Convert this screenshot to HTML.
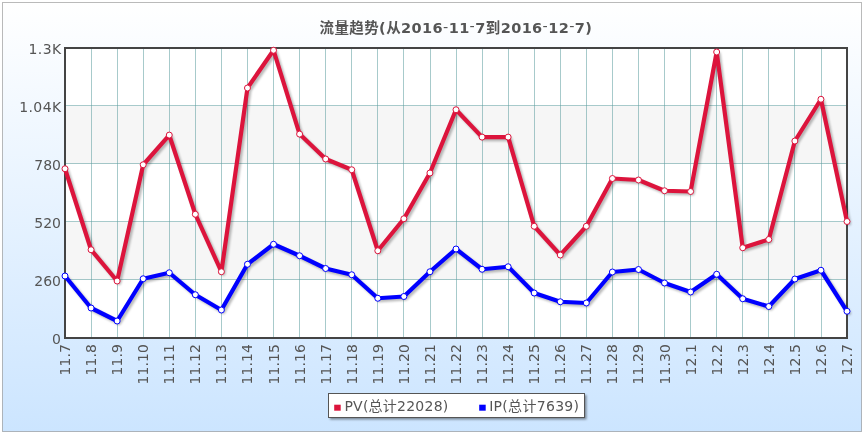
<!DOCTYPE html>
<html><head><meta charset="utf-8"><title>流量趋势</title>
<style>
html,body{margin:0;padding:0;background:#fff;}
body{width:864px;height:434px;overflow:hidden;}
svg{display:block;}
text{font-family:"DejaVu Sans","Liberation Sans","Noto Sans CJK SC",sans-serif;fill:#555;}
.t{font-family:"DejaVu Sans","Liberation Sans","Noto Sans CJK SC",sans-serif;font-weight:bold;font-size:14.5px;fill:#555;}
.l{font-size:14px;letter-spacing:0.35px;}
</style></head><body>
<svg width="864" height="434" viewBox="0 0 864 434">
<defs>
<linearGradient id="bg" x1="0" y1="0" x2="0" y2="1"><stop offset="0" stop-color="#ffffff"/><stop offset="1" stop-color="#cce5ff"/></linearGradient>
<filter id="bl" x="-5%" y="-5%" width="110%" height="110%"><feGaussianBlur stdDeviation="0.9"/></filter>
<filter id="bl2" x="-5%" y="-30%" width="110%" height="160%"><feGaussianBlur stdDeviation="1.1"/></filter>
</defs>
<rect x="2.5" y="2.5" width="859" height="429" fill="url(#bg)" stroke="#666" stroke-opacity="0.45" stroke-width="1"/>
<rect x="65" y="48" width="782" height="290" fill="#ffffff"/>
<rect x="65" y="106" width="782" height="58" fill="#f6f6f6"/>
<rect x="65" y="222" width="782" height="58" fill="#f6f6f6"/>
<g stroke="#5f9ea0" stroke-opacity="0.55" stroke-width="1" shape-rendering="crispEdges">
<line x1="65" y1="105.5" x2="847" y2="105.5"/>
<line x1="65" y1="163.5" x2="847" y2="163.5"/>
<line x1="65" y1="221.5" x2="847" y2="221.5"/>
<line x1="65" y1="279.5" x2="847" y2="279.5"/>
<line x1="91.5" y1="48" x2="91.5" y2="338"/>
<line x1="117.5" y1="48" x2="117.5" y2="338"/>
<line x1="143.5" y1="48" x2="143.5" y2="338"/>
<line x1="169.5" y1="48" x2="169.5" y2="338"/>
<line x1="195.5" y1="48" x2="195.5" y2="338"/>
<line x1="221.5" y1="48" x2="221.5" y2="338"/>
<line x1="247.5" y1="48" x2="247.5" y2="338"/>
<line x1="273.5" y1="48" x2="273.5" y2="338"/>
<line x1="299.5" y1="48" x2="299.5" y2="338"/>
<line x1="325.5" y1="48" x2="325.5" y2="338"/>
<line x1="351.5" y1="48" x2="351.5" y2="338"/>
<line x1="377.5" y1="48" x2="377.5" y2="338"/>
<line x1="403.5" y1="48" x2="403.5" y2="338"/>
<line x1="430.5" y1="48" x2="430.5" y2="338"/>
<line x1="456.5" y1="48" x2="456.5" y2="338"/>
<line x1="482.5" y1="48" x2="482.5" y2="338"/>
<line x1="508.5" y1="48" x2="508.5" y2="338"/>
<line x1="534.5" y1="48" x2="534.5" y2="338"/>
<line x1="560.5" y1="48" x2="560.5" y2="338"/>
<line x1="586.5" y1="48" x2="586.5" y2="338"/>
<line x1="612.5" y1="48" x2="612.5" y2="338"/>
<line x1="638.5" y1="48" x2="638.5" y2="338"/>
<line x1="664.5" y1="48" x2="664.5" y2="338"/>
<line x1="690.5" y1="48" x2="690.5" y2="338"/>
<line x1="716.5" y1="48" x2="716.5" y2="338"/>
<line x1="742.5" y1="48" x2="742.5" y2="338"/>
<line x1="768.5" y1="48" x2="768.5" y2="338"/>
<line x1="794.5" y1="48" x2="794.5" y2="338"/>
<line x1="821.5" y1="48" x2="821.5" y2="338"/>
</g>
<rect x="65" y="48" width="782" height="290" fill="none" stroke="#444" stroke-width="2"/>
<polyline points="65.00,168.75 91.07,249.75 117.13,281.00 143.20,164.75 169.27,135.10 195.33,214.25 221.40,271.75 247.47,88.00 273.53,50.25 299.60,134.10 325.67,159.00 351.73,169.75 377.80,250.75 403.87,218.75 429.93,173.00 456.00,109.75 482.07,137.10 508.13,137.10 534.20,226.25 560.27,255.00 586.33,226.25 612.40,178.50 638.47,180.00 664.53,190.75 690.60,191.50 716.67,52.00 742.73,247.75 768.80,239.50 794.87,141.00 820.93,99.25 847.00,221.50" fill="none" stroke="#000" stroke-opacity="0.27" stroke-width="4.2" stroke-linejoin="round" stroke-linecap="round" transform="translate(2,2)" filter="url(#bl)"/>
<polyline points="65.00,168.75 91.07,249.75 117.13,281.00 143.20,164.75 169.27,135.10 195.33,214.25 221.40,271.75 247.47,88.00 273.53,50.25 299.60,134.10 325.67,159.00 351.73,169.75 377.80,250.75 403.87,218.75 429.93,173.00 456.00,109.75 482.07,137.10 508.13,137.10 534.20,226.25 560.27,255.00 586.33,226.25 612.40,178.50 638.47,180.00 664.53,190.75 690.60,191.50 716.67,52.00 742.73,247.75 768.80,239.50 794.87,141.00 820.93,99.25 847.00,221.50" fill="none" stroke="#dc143c" stroke-width="4.2" stroke-linejoin="round" stroke-linecap="round"/>
<g fill="#fff" stroke="#dc143c" stroke-width="1">
<circle cx="65.00" cy="168.75" r="3"/>
<circle cx="91.07" cy="249.75" r="3"/>
<circle cx="117.13" cy="281.00" r="3"/>
<circle cx="143.20" cy="164.75" r="3"/>
<circle cx="169.27" cy="135.10" r="3"/>
<circle cx="195.33" cy="214.25" r="3"/>
<circle cx="221.40" cy="271.75" r="3"/>
<circle cx="247.47" cy="88.00" r="3"/>
<circle cx="273.53" cy="50.25" r="3"/>
<circle cx="299.60" cy="134.10" r="3"/>
<circle cx="325.67" cy="159.00" r="3"/>
<circle cx="351.73" cy="169.75" r="3"/>
<circle cx="377.80" cy="250.75" r="3"/>
<circle cx="403.87" cy="218.75" r="3"/>
<circle cx="429.93" cy="173.00" r="3"/>
<circle cx="456.00" cy="109.75" r="3"/>
<circle cx="482.07" cy="137.10" r="3"/>
<circle cx="508.13" cy="137.10" r="3"/>
<circle cx="534.20" cy="226.25" r="3"/>
<circle cx="560.27" cy="255.00" r="3"/>
<circle cx="586.33" cy="226.25" r="3"/>
<circle cx="612.40" cy="178.50" r="3"/>
<circle cx="638.47" cy="180.00" r="3"/>
<circle cx="664.53" cy="190.75" r="3"/>
<circle cx="690.60" cy="191.50" r="3"/>
<circle cx="716.67" cy="52.00" r="3"/>
<circle cx="742.73" cy="247.75" r="3"/>
<circle cx="768.80" cy="239.50" r="3"/>
<circle cx="794.87" cy="141.00" r="3"/>
<circle cx="820.93" cy="99.25" r="3"/>
<circle cx="847.00" cy="221.50" r="3"/>
</g>
<polyline points="65.00,276.00 91.07,308.00 117.13,321.00 143.20,278.75 169.27,272.75 195.33,294.75 221.40,310.00 247.47,264.25 273.53,244.25 299.60,255.75 325.67,268.50 351.73,274.75 377.80,298.25 403.87,296.50 429.93,271.75 456.00,249.00 482.07,269.25 508.13,266.75 534.20,293.00 560.27,301.75 586.33,303.00 612.40,272.00 638.47,269.50 664.53,283.00 690.60,292.00 716.67,274.25 742.73,298.75 768.80,306.50 794.87,279.00 820.93,270.25 847.00,311.25" fill="none" stroke="#000" stroke-opacity="0.27" stroke-width="4.2" stroke-linejoin="round" stroke-linecap="round" transform="translate(2,2)" filter="url(#bl)"/>
<polyline points="65.00,276.00 91.07,308.00 117.13,321.00 143.20,278.75 169.27,272.75 195.33,294.75 221.40,310.00 247.47,264.25 273.53,244.25 299.60,255.75 325.67,268.50 351.73,274.75 377.80,298.25 403.87,296.50 429.93,271.75 456.00,249.00 482.07,269.25 508.13,266.75 534.20,293.00 560.27,301.75 586.33,303.00 612.40,272.00 638.47,269.50 664.53,283.00 690.60,292.00 716.67,274.25 742.73,298.75 768.80,306.50 794.87,279.00 820.93,270.25 847.00,311.25" fill="none" stroke="#0000ff" stroke-width="4.2" stroke-linejoin="round" stroke-linecap="round"/>
<g fill="#fff" stroke="#0000ff" stroke-width="1">
<circle cx="65.00" cy="276.00" r="3"/>
<circle cx="91.07" cy="308.00" r="3"/>
<circle cx="117.13" cy="321.00" r="3"/>
<circle cx="143.20" cy="278.75" r="3"/>
<circle cx="169.27" cy="272.75" r="3"/>
<circle cx="195.33" cy="294.75" r="3"/>
<circle cx="221.40" cy="310.00" r="3"/>
<circle cx="247.47" cy="264.25" r="3"/>
<circle cx="273.53" cy="244.25" r="3"/>
<circle cx="299.60" cy="255.75" r="3"/>
<circle cx="325.67" cy="268.50" r="3"/>
<circle cx="351.73" cy="274.75" r="3"/>
<circle cx="377.80" cy="298.25" r="3"/>
<circle cx="403.87" cy="296.50" r="3"/>
<circle cx="429.93" cy="271.75" r="3"/>
<circle cx="456.00" cy="249.00" r="3"/>
<circle cx="482.07" cy="269.25" r="3"/>
<circle cx="508.13" cy="266.75" r="3"/>
<circle cx="534.20" cy="293.00" r="3"/>
<circle cx="560.27" cy="301.75" r="3"/>
<circle cx="586.33" cy="303.00" r="3"/>
<circle cx="612.40" cy="272.00" r="3"/>
<circle cx="638.47" cy="269.50" r="3"/>
<circle cx="664.53" cy="283.00" r="3"/>
<circle cx="690.60" cy="292.00" r="3"/>
<circle cx="716.67" cy="274.25" r="3"/>
<circle cx="742.73" cy="298.75" r="3"/>
<circle cx="768.80" cy="306.50" r="3"/>
<circle cx="794.87" cy="279.00" r="3"/>
<circle cx="820.93" cy="270.25" r="3"/>
<circle cx="847.00" cy="311.25" r="3"/>
</g>
<g class="l" text-anchor="end">
<text x="61.6" y="54.0" style="letter-spacing:0.42px">1.3K</text>
<text x="61.6" y="112.0" style="letter-spacing:0.42px">1.04K</text>
<text x="61" y="170.0" style="letter-spacing:0">780</text>
<text x="61" y="228.0" style="letter-spacing:0">520</text>
<text x="61" y="286.0" style="letter-spacing:0">260</text>
<text x="61" y="344.0" style="letter-spacing:0">0</text>
</g>
<g class="l" text-anchor="end" style="letter-spacing:0.1px">
<text transform="translate(65.00,344) rotate(-90)" y="5">11.7</text>
<text transform="translate(91.07,344) rotate(-90)" y="5">11.8</text>
<text transform="translate(117.13,344) rotate(-90)" y="5">11.9</text>
<text transform="translate(143.20,344) rotate(-90)" y="5">11.10</text>
<text transform="translate(169.27,344) rotate(-90)" y="5">11.11</text>
<text transform="translate(195.33,344) rotate(-90)" y="5">11.12</text>
<text transform="translate(221.40,344) rotate(-90)" y="5">11.13</text>
<text transform="translate(247.47,344) rotate(-90)" y="5">11.14</text>
<text transform="translate(273.53,344) rotate(-90)" y="5">11.15</text>
<text transform="translate(299.60,344) rotate(-90)" y="5">11.16</text>
<text transform="translate(325.67,344) rotate(-90)" y="5">11.17</text>
<text transform="translate(351.73,344) rotate(-90)" y="5">11.18</text>
<text transform="translate(377.80,344) rotate(-90)" y="5">11.19</text>
<text transform="translate(403.87,344) rotate(-90)" y="5">11.20</text>
<text transform="translate(429.93,344) rotate(-90)" y="5">11.21</text>
<text transform="translate(456.00,344) rotate(-90)" y="5">11.22</text>
<text transform="translate(482.07,344) rotate(-90)" y="5">11.23</text>
<text transform="translate(508.13,344) rotate(-90)" y="5">11.24</text>
<text transform="translate(534.20,344) rotate(-90)" y="5">11.25</text>
<text transform="translate(560.27,344) rotate(-90)" y="5">11.26</text>
<text transform="translate(586.33,344) rotate(-90)" y="5">11.27</text>
<text transform="translate(612.40,344) rotate(-90)" y="5">11.28</text>
<text transform="translate(638.47,344) rotate(-90)" y="5">11.29</text>
<text transform="translate(664.53,344) rotate(-90)" y="5">11.30</text>
<text transform="translate(690.60,344) rotate(-90)" y="5">12.1</text>
<text transform="translate(716.67,344) rotate(-90)" y="5">12.2</text>
<text transform="translate(742.73,344) rotate(-90)" y="5">12.3</text>
<text transform="translate(768.80,344) rotate(-90)" y="5">12.4</text>
<text transform="translate(794.87,344) rotate(-90)" y="5">12.5</text>
<text transform="translate(820.93,344) rotate(-90)" y="5">12.6</text>
<text transform="translate(847.00,344) rotate(-90)" y="5">12.7</text>
</g>
<text class="t" x="319.5" y="33.1" textLength="272.5" lengthAdjust="spacing">流量趋势(从2016<tspan dy="-1.4" style="font-weight:normal">-</tspan><tspan dy="1.4">11</tspan><tspan dy="-1.9" style="font-weight:normal">-</tspan><tspan dy="1.9">7到2016</tspan><tspan dy="-1.9" style="font-weight:normal">-</tspan><tspan dy="1.9">12</tspan><tspan dy="-1.9" style="font-weight:normal">-</tspan><tspan dy="1.9">7)</tspan></text>
<rect x="330" y="395" width="256.5" height="24.5" fill="#000" fill-opacity="0.42" filter="url(#bl2)"/>
<rect x="328.5" y="393.5" width="256" height="24" fill="#fff" stroke="#555" stroke-width="1"/>
<rect x="334.2" y="404.7" width="6.5" height="6" fill="#dc143c"/>
<text class="l" style="letter-spacing:0.24px" x="344.4" y="411">PV(总计22028)</text>
<rect x="479.2" y="404.7" width="6.5" height="6" fill="#0000ff"/>
<text class="l" style="letter-spacing:0.3px" x="489.2" y="411">IP(总计7639)</text>
</svg></body></html>
